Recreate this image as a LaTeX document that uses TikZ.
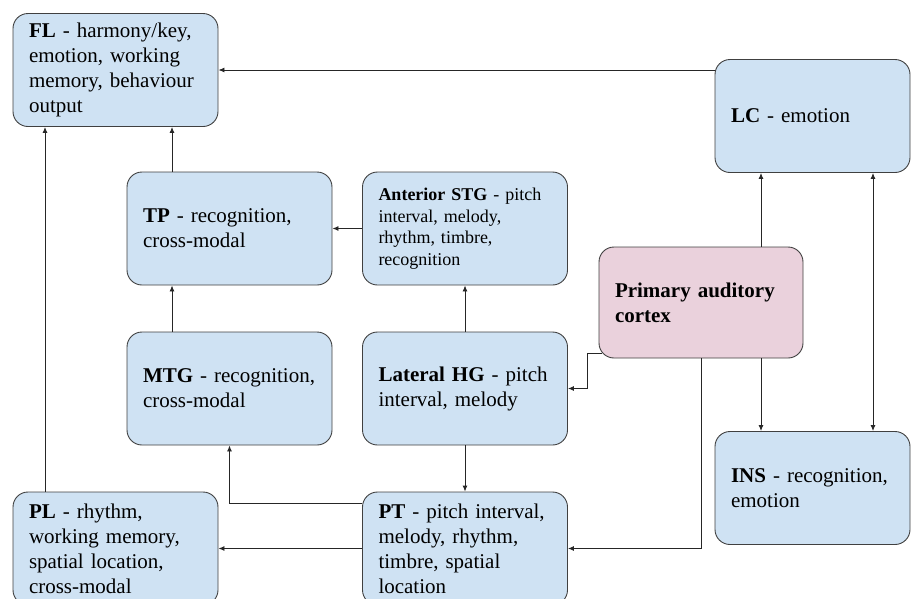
\documentclass[tikz,border=0pt]{standalone}
\usepackage{fontspec}
\setmainfont{Liberation Serif}
\usetikzlibrary{arrows.meta}
\definecolor{areablue}{HTML}{CFE2F3}
\definecolor{areapink}{HTML}{EAD1DC}

\begin{document}
\begin{tikzpicture}[x=1pt,y=-1pt,>={Latex[length=6pt,width=5pt]},line width=0.9pt,
  box/.style={draw=black!75,rounded corners=15pt,fill=areablue,minimum height=113pt,text width=173pt,inner xsep=16pt,inner ysep=0pt,align=left,font=\fontsize{21}{25}\selectfont},
  narrowbox/.style={box,text width=163pt},
  link/.style={draw=black!85,->}]
\useasboundingbox (0,0) rectangle (911,598);
\clip (0,0) rectangle (911,598);
\node[box] (fl) at (115.5,70) {\textbf{FL} - harmony/key,\\emotion, working\\memory, behaviour\\output};
\node[narrowbox] (lc) at (812.5,116) {\textbf{LC} - emotion};
\node[box] (tp) at (229.5,228.5) {\textbf{TP} - recognition,\\cross-modal};
\node[box,font=\fontsize{18}{21.5}\selectfont] (stg) at (465,228.5) {\textbf{Anterior STG} - pitch\\interval, melody,\\rhythm, timbre,\\recognition};
\node[box,fill=areapink,text width=172pt,minimum height=111pt] (pac) at (701,302.5) {\textbf{Primary auditory\\cortex}};
\node[box] (mtg) at (229.5,388.5) {\textbf{MTG} - recognition,\\cross-modal};
\node[box] (hg) at (465,388.5) {\textbf{Lateral HG} - pitch\\interval, melody};
\node[narrowbox] (ins) at (812.5,488) {\textbf{INS} - recognition,\\emotion};
\node[box] (pl) at (115.5,548.5) {\textbf{PL} - rhythm,\\working memory,\\spatial location,\\cross-modal};
\node[box] (pt) at (465,548.5) {\textbf{PT} - pitch interval,\\melody, rhythm,\\timbre, spatial\\location};
\draw[link] (lc.west |- fl.east) -- (fl.east);
\draw[link] (tp.north -| 172,0) -- (fl.south -| 172,0);
\draw[link] (pl.north -| 45,0) -- (fl.south -| 45,0);
\draw[link] (stg.west) -- (tp.east);
\draw[link] (mtg.north -| 172,0) -- (tp.south -| 172,0);
\draw[link] (hg.north) -- (stg.south);
\draw[link] (hg.south) -- (pt.north);
\draw[link] ([xshift=3pt,yshift=5pt]pac.south west) -- ++(-14,0) |- (hg.east);
\draw[link] (pac.south) |- (pt.east);
\draw[link] (pac.north -| 761,0) -- (lc.south -| 761,0);
\draw[link] (pac.south -| 761,0) -- (ins.north -| 761,0);
\draw[link,<->] (ins.north -| 873,0) -- (lc.south -| 873,0);
\draw[link] (pt.west |- 0,503) -| (mtg.south);
\draw[link] (pt.west) -- (pl.east);
\end{tikzpicture}
\end{document}
